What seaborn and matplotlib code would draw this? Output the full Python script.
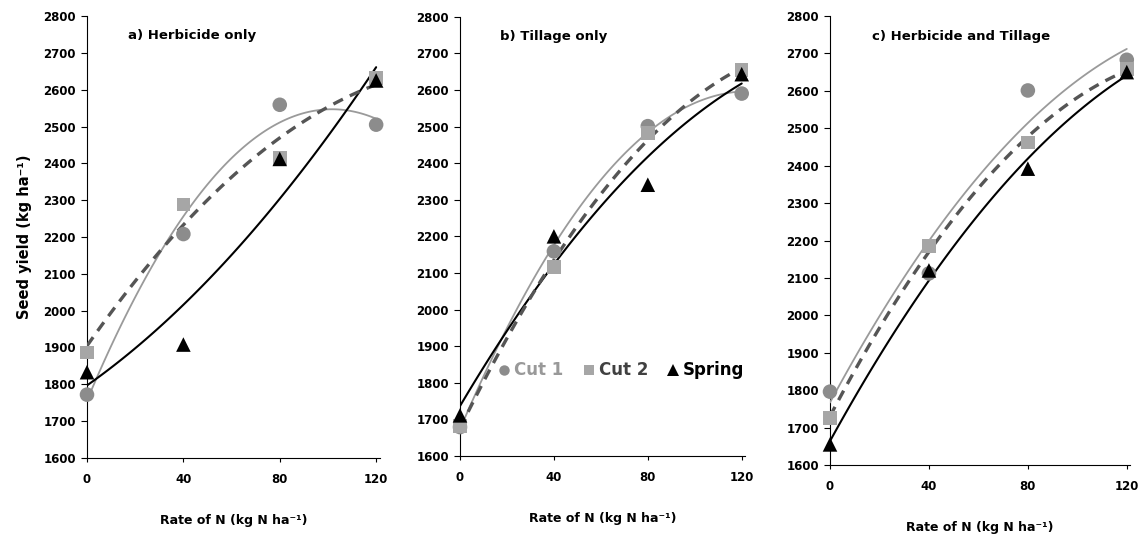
import numpy as np
import pandas as pd
import matplotlib
matplotlib.use("Agg")
import matplotlib.pyplot as plt
import seaborn as sns
from matplotlib.lines import Line2D

sns.set_theme(style="white")
plt.rcParams['font.family'] = ['DejaVu Sans']
plt.rcParams['font.weight'] = 'bold'
plt.rcParams['text.color'] = 'black'
plt.rcParams['axes.labelcolor'] = 'black'
plt.rcParams['xtick.color'] = 'black'
plt.rcParams['ytick.color'] = 'black'

rates = [0, 40, 80, 120]
panel_titles = ["a) Herbicide only", "b) Tillage only", "c) Herbicide and Tillage"]

# Seed yield (kg/ha) per panel
cut1 = [[1772, 2208, 2559, 2505],
        [1679, 2159, 2501, 2590],
        [1796, 2112, 2601, 2683]]
cut2 = [[1886, 2288, 2414, 2632],
        [1682, 2116, 2482, 2654],
        [1725, 2185, 2462, 2659]]
spring = [[1833, 1908, 2412, 2625],
          [1711, 2200, 2341, 2643],
          [1655, 2120, 2392, 2650]]

series_names = ["Cut 1", "Cut 2", "Spring"]
yticks = [1600, 1700, 1800, 1900, 2000, 2100, 2200, 2300, 2400, 2500, 2600, 2700, 2800]
xticks = [0, 40, 80, 120]

marker_col = {"Cut 1": "#8c8c8c", "Cut 2": "#a6a6a6", "Spring": "#000000"}
markers = {"Cut 1": "o", "Cut 2": "s", "Spring": "^"}
line_style = {"Cut 1": dict(color="#9a9a9a", lw=1.3, ls="-"),
              "Cut 2": dict(color="#555555", lw=2.4, ls=(0, (3.2, 2.3))),
              "Spring": dict(color="#000000", lw=1.5, ls="-")}
legend_text_col = {"Cut 1": "#999999", "Cut 2": "#404040", "Spring": "#000000"}

W, H = 1143, 537
fig = plt.figure(figsize=(W / 100, H / 100), dpi=100)

# axes boxes in pixels: left, right (at xlim max), top, bottom, xmax
boxes = [(87, 380, 16.0, 458.0, 121.6),
         (460, 745, 16.7, 456.0, 121.4),
         (830, 1130, 16.0, 465.0, 121.3)]

for i, (l, r, t, b, xmax) in enumerate(boxes):
    ax = fig.add_axes([l / W, 1 - b / H, (r - l) / W, (b - t) / H])
    rows = []
    for name, arr in zip(series_names, [cut1, cut2, spring]):
        for x, y in zip(rates, arr[i]):
            rows.append({"rate": x, "yield": y, "series": name})
    df = pd.DataFrame(rows)
    # fitted quadratic trend lines
    for name in ["Cut 1", "Spring", "Cut 2"]:
        sub = df[df.series == name]
        st = line_style[name]
        sns.regplot(data=sub, x="rate", y="yield", order=2, ci=None, scatter=False,
                    truncate=True, ax=ax,
                    line_kws=dict(color=st["color"], lw=st["lw"], ls=st["ls"], zorder=3))
    for name in series_names:
        sub = df[df.series == name]
        sns.scatterplot(data=sub, x="rate", y="yield", marker=markers[name],
                        color=marker_col[name], s=110 if name != "Cut 2" else 95,
                        edgecolor="none", linewidth=0, ax=ax, zorder=4, legend=False,
                        clip_on=False)
    ax.set_xlim(0, xmax)
    ax.set_ylim(1600, 2800)
    ax.set_xticks(xticks)
    ax.set_yticks(yticks)
    ax.set_xticklabels([str(v) for v in xticks], fontsize=8.5, fontweight='bold')
    ax.set_yticklabels([str(v) for v in yticks], fontsize=8.5, fontweight='bold')
    for sp in ["top", "right"]:
        ax.spines[sp].set_visible(False)
    for sp in ["left", "bottom"]:
        ax.spines[sp].set_color("black")
        ax.spines[sp].set_linewidth(0.8)
    ax.tick_params(axis="y", direction="out", length=4.3, width=0.8, color="black",
                   left=True, pad=3.6)
    ax.tick_params(axis="x", direction="out", length=3, width=0.8, color="black",
                   bottom=True, pad=8)
    ax.set_xlabel("Rate of N (kg N ha⁻¹)", fontsize=9, fontweight='bold', labelpad=20)
    if i == 0:
        ax.set_ylabel("Seed yield (kg ha⁻¹)", fontsize=10.5, fontweight='bold', labelpad=8)
    else:
        ax.set_ylabel("")
    ax.text(0.14, 0.955, panel_titles[i], transform=ax.transAxes, fontsize=9.5,
            fontweight='bold', ha="left", va="center")
    if i == 1:
        handles = [Line2D([], [], ls="none", marker=markers[n], color=marker_col[n],
                          markersize=7.5 if n != "Spring" else 8.5, markeredgewidth=0)
                   for n in series_names]
        leg = ax.legend(handles, series_names, ncol=3, frameon=False,
                        loc="center", bbox_to_anchor=(0.568, 0.195),
                        handlelength=0.6, handletextpad=0.3, columnspacing=1.2,
                        prop=dict(size=12, weight='bold'))
        for txt, n in zip(leg.get_texts(), series_names):
            txt.set_color(legend_text_col[n])

fig.savefig("out.png", dpi=100)
